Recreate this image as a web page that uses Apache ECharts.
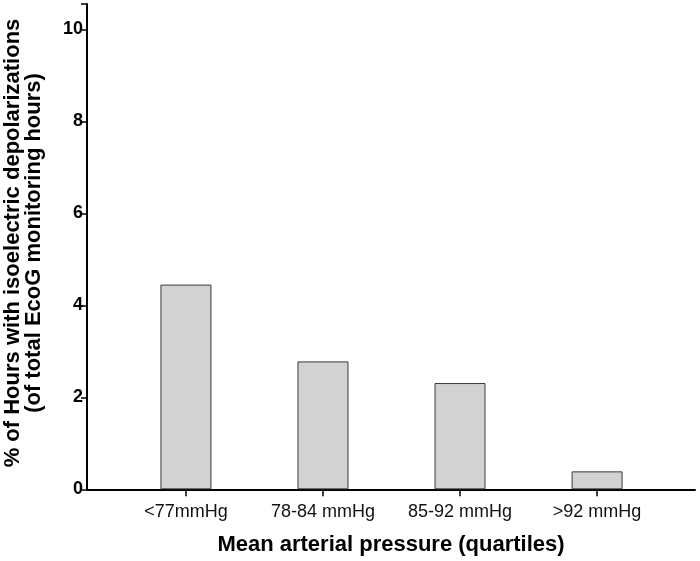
<!DOCTYPE html>
<html>
<head>
<meta charset="utf-8">
<script src="https://cdn.jsdelivr.net/npm/echarts@6/dist/echarts.min.js"></script>
<style>html,body{margin:0;padding:0;background:#fff}#c{width:700px;height:561px}</style>
</head>
<body>
<div id="c"></div>
<script>
const categories = ['<77mmHg', '78-84 mmHg', '85-92 mmHg', '>92 mmHg'];
const values = [4.45, 2.78, 2.31, 0.39];
const yTicks = [0, 2, 4, 6, 8, 10];
const yTitle1 = '% of Hours with isoelectric depolarizations';
const yTitle2 = '(of total EcoG monitoring hours)';
const xTitle = 'Mean arterial pressure (quartiles)';

const FONT = '"Liberation Sans", Arial, sans-serif';
const chart = echarts.init(document.getElementById('c'), null, {renderer: 'canvas'});
const gTop = 4, gBottom = 71.7, yMax = 10.55;
chart.setOption({
  animation: false,
  backgroundColor: '#fff',
  grid: [
    {left: 87, right: 5, top: gTop, bottom: gBottom},
    {left: 117.4, right: 34.4, top: gTop, bottom: gBottom}
  ],
  xAxis: [
    {gridIndex: 0, type: 'value', min: 0, max: 1, show: true,
     axisLine: {show: true, lineStyle: {color: '#000', width: 2}},
     axisTick: {show: false}, axisLabel: {show: false}, splitLine: {show: false}},
    {gridIndex: 1, type: 'category', data: categories,
     axisLine: {show: false},
     axisTick: {show: true, alignWithLabel: true, length: 7, lineStyle: {color: '#000', width: 1.5}},
     axisLabel: {color: '#111', fontSize: 18, fontFamily: FONT, margin: 14},
     splitLine: {show: false}}
  ],
  yAxis: [
    {gridIndex: 0, type: 'value', min: 0, max: yMax, interval: 2,
     axisLine: {show: true, lineStyle: {color: '#000', width: 2}},
     axisTick: {show: true, length: 6, lineStyle: {color: '#000', width: 1.5}},
     axisLabel: {color: '#000', fontSize: 18, fontWeight: 'bold', fontFamily: FONT, margin: 4,
       formatter: v => (yTicks.indexOf(v) >= 0 ? String(v) : '')},
     splitLine: {show: false}},
    {gridIndex: 1, type: 'value', min: 0, max: yMax, interval: 2, show: false}
  ],
  series: [{
    type: 'bar', xAxisIndex: 1, yAxisIndex: 1, data: values, barWidth: 51, z: 1,
    itemStyle: {color: '#d2d2d2', borderColor: '#3a3a3a', borderWidth: 1}
  }],
  graphic: [
    {type: 'text', x: 391, y: 545,
     style: {text: xTitle, font: 'bold 22px ' + FONT, fill: '#000', align: 'center', verticalAlign: 'middle'}},
    {type: 'text', x: 13, y: 243, rotation: Math.PI / 2,
     style: {text: yTitle1, font: 'bold 22px ' + FONT, fill: '#000', align: 'center', verticalAlign: 'middle'}},
    {type: 'text', x: 34, y: 243, rotation: Math.PI / 2,
     style: {text: yTitle2, font: 'bold 22px ' + FONT, fill: '#000', align: 'center', verticalAlign: 'middle'}}
  ]
});
</script>
</body>
</html>
